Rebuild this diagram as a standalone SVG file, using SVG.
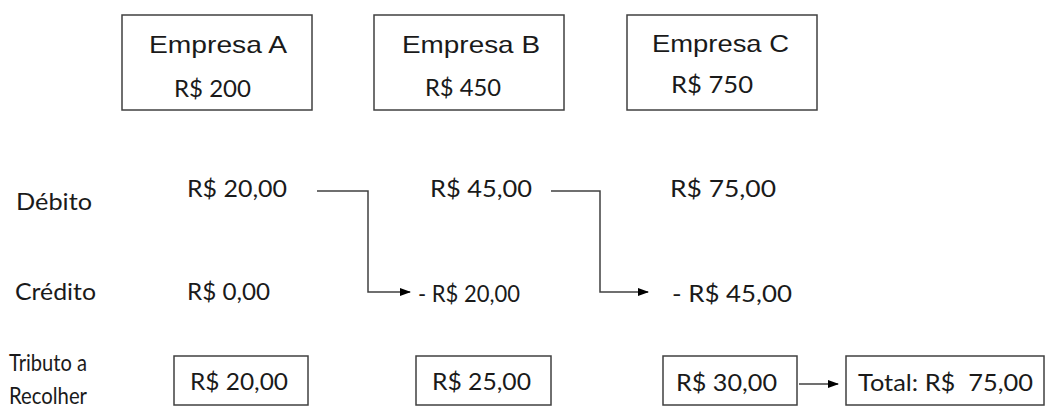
<svg xmlns="http://www.w3.org/2000/svg" width="1046" height="407" viewBox="0 0 1046 407">
<style>
.box{fill:#fff;stroke:#404040;stroke-width:1.5}
.ar{font-family:"Liberation Sans",Arial,sans-serif;font-size:24px;fill:#1a1a1a}
.cb{font-family:Lato,"Open Sans",sans-serif;font-size:24px;fill:#1a1a1a}
.ln{fill:none;stroke:#404040;stroke-width:1.5}
</style>
<defs>
<marker id="ah" markerWidth="11" markerHeight="8" refX="10" refY="4" orient="auto" markerUnits="userSpaceOnUse">
<path d="M0,0 L11,4 L0,8 Z" fill="#000"/>
</marker>
</defs>
<rect width="1046" height="407" fill="#fff"/>
<g id="empresaA">
<rect class="box" x="122" y="15" width="190" height="95"/>
<text class="ar" x="149" y="53" textLength="138" lengthAdjust="spacingAndGlyphs">Empresa A</text>
<text class="cb" x="174" y="97" textLength="77" lengthAdjust="spacingAndGlyphs">R$ 200</text>
</g>
<g id="empresaB">
<rect class="box" x="374" y="15" width="190" height="95"/>
<text class="ar" x="402" y="53" textLength="138" lengthAdjust="spacingAndGlyphs">Empresa B</text>
<text class="cb" x="425" y="96" textLength="76" lengthAdjust="spacingAndGlyphs">R$ 450</text>
</g>
<g id="empresaC">
<rect class="box" x="627" y="15" width="190" height="95"/>
<text class="ar" x="652" y="52" textLength="137" lengthAdjust="spacingAndGlyphs">Empresa C</text>
<text class="cb" x="671" y="93" textLength="82" lengthAdjust="spacingAndGlyphs">R$ 750</text>
</g>
<g id="labels">
<text class="cb" x="16" y="210" textLength="76" lengthAdjust="spacingAndGlyphs">Débito</text>
<text class="cb" x="15" y="300" textLength="81" lengthAdjust="spacingAndGlyphs">Crédito</text>
<text class="cb" x="9" y="371" textLength="78" lengthAdjust="spacingAndGlyphs">Tributo a</text>
<text class="cb" x="9" y="404" textLength="78" lengthAdjust="spacingAndGlyphs">Recolher</text>
</g>
<g id="debitos">
<text class="cb" x="187" y="197" textLength="100" lengthAdjust="spacingAndGlyphs">R$ 20,00</text>
<text class="cb" x="430" y="197" textLength="102" lengthAdjust="spacingAndGlyphs">R$ 45,00</text>
<text class="cb" x="670" y="197" textLength="106" lengthAdjust="spacingAndGlyphs">R$ 75,00</text>
</g>
<g id="creditos">
<text class="cb" x="187" y="300" textLength="83" lengthAdjust="spacingAndGlyphs">R$ 0,00</text>
<text class="cb" x="418" y="302" textLength="102" lengthAdjust="spacingAndGlyphs">- R$ 20,00</text>
<text class="cb" x="672" y="302" textLength="120" lengthAdjust="spacingAndGlyphs">- R$ 45,00</text>
</g>
<g id="tributo1">
<rect class="box" x="174" y="356" width="134" height="49"/>
<text class="cb" x="190" y="390" textLength="98" lengthAdjust="spacingAndGlyphs">R$ 20,00</text>
</g>
<g id="tributo2">
<rect class="box" x="416" y="356" width="135" height="49"/>
<text class="cb" x="432" y="390" textLength="99" lengthAdjust="spacingAndGlyphs">R$ 25,00</text>
</g>
<g id="tributo3">
<rect class="box" x="663" y="356" width="134" height="49"/>
<text class="cb" x="676" y="391" textLength="101" lengthAdjust="spacingAndGlyphs">R$ 30,00</text>
</g>
<g id="total">
<rect class="box" x="846" y="356" width="198" height="49"/>
<text class="cb" x="858" y="391" textLength="175" lengthAdjust="spacingAndGlyphs" xml:space="preserve">Total: R$  75,00</text>
</g>
<g id="connectors">
<path class="ln" d="M317,191 H368 V292 H410" marker-end="url(#ah)"/>
<path class="ln" d="M551,191 H600 V292 H648" marker-end="url(#ah)"/>
<path class="ln" d="M799,384 H838" marker-end="url(#ah)"/>
</g>
</svg>
